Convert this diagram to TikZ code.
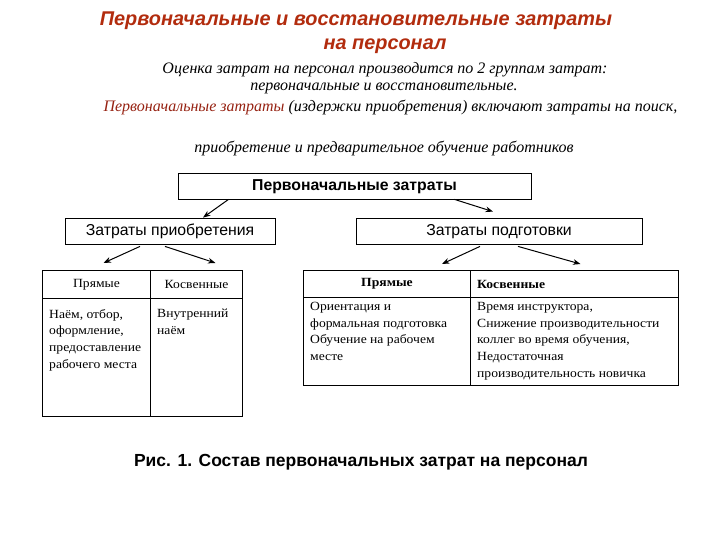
\documentclass[tikz,border=0pt]{standalone}
\usepackage{fontspec}
\setmainfont{Liberation Serif}
\setsansfont{Liberation Sans}
\newfontfamily\cellfont{Liberation Serif}[FakeStretch=1.09]
\usetikzlibrary{arrows.meta, positioning, calc}

\definecolor{titlered}{RGB}{178,44,14}
\definecolor{notered}{RGB}{150,34,18}

\begin{document}
\begin{tikzpicture}[
    x=1pt, y=-1pt,
    >=Stealth,
    title_text/.style={font=\sffamily\bfseries\itshape\fontsize{19.9}{22}\selectfont, text=titlered},
    note_text/.style={font=\itshape\fontsize{16}{18}\selectfont},
    box/.style={draw, line width=0.8pt, minimum height=26pt, inner sep=0pt, text height=11.5pt, text depth=2pt},
    cell/.style={draw, line width=1pt, inner sep=0pt, anchor=north west},
    cell_text/.style={font=\cellfont\fontsize{12.5}{16.7}\selectfont, align=left, anchor=north west, inner sep=0pt},
    link/.style={->, line width=1pt}
]
    \useasboundingbox (0,0) rectangle (720,540);

    % === 1. Heading and notes ===
    \node[title_text] (title1) at (356,21) {Первоначальные и восстановительные затраты};
    \node[title_text] (title2) at (385,46) {на персонал};

    \node[note_text] (note1) at (385,70) {Оценка затрат на персонал производится по 2 группам затрат:};
    \node[note_text] (note2) at (384,88) {первоначальные и восстановительные.};
    \node[note_text, anchor=west] (note3) at (100,107)
        {\textcolor{notered}{Первоначальные затраты} (издержки приобретения) включают затраты на поиск,};
    \node[note_text] (note4) at (384,149) {приобретение и предварительное обучение работников};

    % === 2. Boxes ===
    \node[box, minimum width=353pt, font=\sffamily\bfseries\fontsize{15.8}{18}\selectfont]
        (initial) at (354.5,186) {Первоначальные затраты};
    \node[box, minimum width=210pt, font=\sffamily\fontsize{15.8}{18}\selectfont]
        (acquire) at (170,231) {Затраты приобретения};
    \node[box, minimum width=286pt, font=\sffamily\fontsize{15.8}{18}\selectfont]
        (training) at (499,231) {Затраты подготовки};

    % === 3. Table of acquisition costs ===
    \node[cell, minimum width=108pt, minimum height=28pt, font=\cellfont\fontsize{12.5}{14}\selectfont]
        (acqdirhead) at (42,270) {Прямые};
    \node[cell, minimum width=92pt, minimum height=28pt, font=\cellfont\fontsize{12.5}{14}\selectfont]
        (acqindhead) at (150,270) {Косвенные};
    \node[cell, minimum width=108pt, minimum height=118pt] (acqdirbody) at (42,298) {};
    \node[cell, minimum width=92pt, minimum height=118pt] (acqindbody) at (150,298) {};

    \node[cell_text] (acqdirtext) at ([xshift=7pt, yshift=-11pt]acqdirbody.north west)
        {Наём, отбор,\\оформление,\\предоставление\\рабочего места};
    \node[cell_text] (acqindtext) at ([xshift=7pt, yshift=-11pt]acqindbody.north west)
        {Внутренний\\наём};

    % === 4. Table of training costs ===
    \node[cell, minimum width=167pt, minimum height=27pt, font=\cellfont\bfseries\fontsize{12.5}{14}\selectfont]
        (trndirhead) at (303,270) {Прямые};
    \node[cell, minimum width=208pt, minimum height=27pt] (trnindhead) at (470,270) {};
    \node[anchor=west, inner sep=0pt, font=\cellfont\bfseries\fontsize{12.5}{14}\selectfont]
        (trnindlabel) at ([xshift=7pt]trnindhead.west) {Косвенные};
    \node[cell, minimum width=167pt, minimum height=88pt] (trndirbody) at (303,297) {};
    \node[cell, minimum width=208pt, minimum height=88pt] (trnindbody) at (470,297) {};

    \node[cell_text] (trndirtext) at ([xshift=7pt, yshift=-5pt]trndirbody.north west)
        {Ориентация и\\формальная подготовка\\Обучение на рабочем\\месте};
    \node[cell_text] (trnindtext) at ([xshift=7pt, yshift=-5pt]trnindbody.north west)
        {Время инструктора,\\Снижение производительности\\коллег во время обучения,\\Недостаточная\\производительность новичка};

    % === 5. Arrows ===
    \draw[link] ([xshift=-126pt]initial.south) -- ([xshift=33pt]acquire.north);
    \draw[link] ([xshift=100pt]initial.south) -- ([xshift=-6pt, yshift=6pt]training.north);

    \draw[link] ([xshift=-30pt, yshift=-2pt]acquire.south) -- ([xshift=7pt, yshift=7pt]acqdirhead.north);
    \draw[link] ([xshift=-5pt, yshift=-2pt]acquire.south) -- ([xshift=19pt, yshift=7pt]acqindhead.north);
    \draw[link] ([xshift=-19pt, yshift=-2pt]training.south) -- ([xshift=55pt, yshift=6pt]trndirhead.north);
    \draw[link] ([xshift=19pt, yshift=-2pt]training.south) -- ([xshift=6pt, yshift=6pt]trnindhead.north);

    % === 6. Caption ===
    \node[font=\sffamily\bfseries\fontsize{17.5}{20}\selectfont] (caption) at (361,462)
        {Рис. 1. Состав первоначальных затрат на персонал};

\end{tikzpicture}
\end{document}
